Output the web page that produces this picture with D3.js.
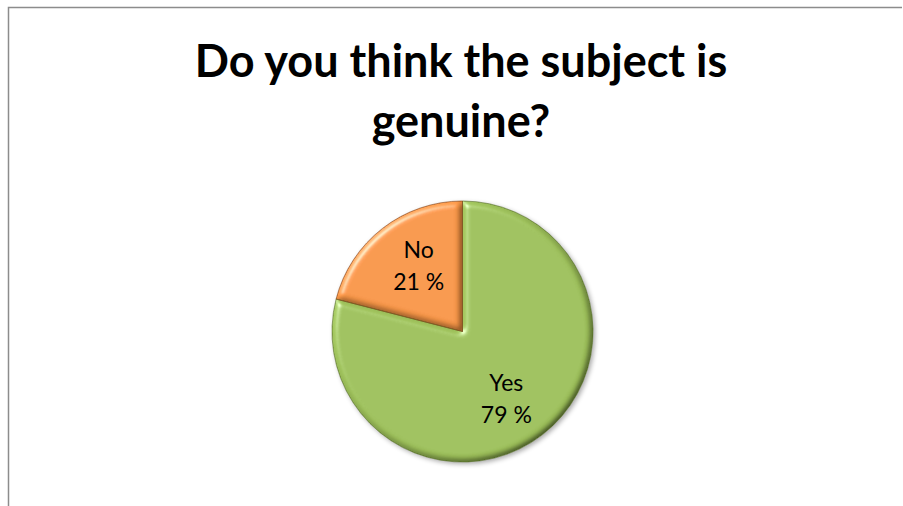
<!DOCTYPE html>
<html>
<head>
<meta charset="utf-8">
<script src="https://cdn.jsdelivr.net/npm/d3@7/dist/d3.min.js"></script>
<style>
  html, body { margin: 0; padding: 0; background: #ffffff; }
  svg { display: block; }
</style>
</head>
<body>
<svg id="chart" width="903" height="506"></svg>
<script>
// Survey answers
const categories = ["Yes", "No"];
const values = [79, 21];
const sliceColors = ["#9DC05A", "#F79647"];
const edgeColors = ["#5a7526", "#8a4515"];
const titleLines = ["Do you think the subject is", "genuine?"];

const W = 903, H = 506;
const svg = d3.select("#chart");
const defs = svg.append("defs");

// Soft-round bevel: light from upper left, shade toward lower right
const bevel = defs.append("filter")
  .attr("id", "bevel")
  .attr("x", "-10%").attr("y", "-10%")
  .attr("width", "120%").attr("height", "120%");
bevel.append("feGaussianBlur")
  .attr("in", "SourceAlpha").attr("stdDeviation", 3.2).attr("result", "blur");
const diff = bevel.append("feDiffuseLighting")
  .attr("in", "blur").attr("surfaceScale", 4)
  .attr("diffuseConstant", 1).attr("lighting-color", "#ffffff")
  .attr("result", "diffuse");
diff.append("feDistantLight").attr("azimuth", 225).attr("elevation", 55);
bevel.append("feComposite")
  .attr("in", "diffuse").attr("in2", "SourceAlpha")
  .attr("operator", "in").attr("result", "lit");
bevel.append("feComposite")
  .attr("in", "SourceGraphic").attr("in2", "lit")
  .attr("operator", "arithmetic")
  .attr("k1", 1.22).attr("k2", 0).attr("k3", 0).attr("k4", 0)
  .attr("result", "shaded");
const spec = bevel.append("feSpecularLighting")
  .attr("in", "blur").attr("surfaceScale", 4)
  .attr("specularConstant", 0.8).attr("specularExponent", 32)
  .attr("lighting-color", "#ffffff").attr("result", "spec");
spec.append("feDistantLight").attr("azimuth", 225).attr("elevation", 40);
bevel.append("feComposite")
  .attr("in", "spec").attr("in2", "SourceAlpha")
  .attr("operator", "in").attr("result", "specIn");
bevel.append("feComposite")
  .attr("in", "shaded").attr("in2", "specIn")
  .attr("operator", "arithmetic")
  .attr("k1", 0).attr("k2", 1).attr("k3", 0.55).attr("k4", 0);

// Faint drop shadow under the pie
const shadow = defs.append("filter")
  .attr("id", "shadow")
  .attr("x", "-20%").attr("y", "-20%")
  .attr("width", "140%").attr("height", "140%");
shadow.append("feGaussianBlur").attr("in", "SourceAlpha").attr("stdDeviation", 2.5);
shadow.append("feOffset").attr("dx", 1.5).attr("dy", 2).attr("result", "off");
shadow.append("feComponentTransfer").append("feFuncA")
  .attr("type", "linear").attr("slope", 0.35);

// Chart frame
svg.append("path")
  .attr("d", `M8.5,${H} V7.5 H902`)
  .attr("fill", "none")
  .attr("stroke", "#8c8c8c")
  .attr("stroke-width", 1.5);

// Title
const title = svg.append("text")
  .attr("text-anchor", "middle")
  .attr("font-family", "Lato, 'Open Sans', sans-serif")
  .attr("font-weight", 700)
  .attr("font-size", 45)
  .attr("fill", "#000000");
titleLines.forEach((t, i) => {
  title.append("tspan")
    .attr("x", 461)
    .attr("y", 77 + i * 60)
    .text(t);
});

// Pie
const cx = 462.5, cy = 331.5, R = 130.5;
const pie = d3.pie().sort(null).value(d => d.value);
const arcs = pie(categories.map((c, i) => ({ name: c, value: values[i], i })));
const arc = d3.arc().innerRadius(0).outerRadius(R);

const g = svg.append("g").attr("transform", `translate(${cx},${cy})`);

g.append("circle")
  .attr("r", R)
  .attr("fill", "#000")
  .attr("filter", "url(#shadow)");

g.selectAll("path.slice")
  .data(arcs)
  .join("path")
  .attr("class", "slice")
  .attr("d", arc)
  .attr("fill", d => sliceColors[d.data.i])
  .attr("filter", "url(#bevel)");

g.selectAll("path.edge")
  .data(arcs)
  .join("path")
  .attr("class", "edge")
  .attr("d", arc)
  .attr("fill", "none")
  .attr("stroke", d => edgeColors[d.data.i])
  .attr("stroke-opacity", 0.8)
  .attr("stroke-width", 0.8);

// Data labels: category name over percentage
const labelArc = d3.arc().innerRadius(80).outerRadius(80);
const labels = g.selectAll("text.lbl")
  .data(arcs)
  .join("text")
  .attr("class", "lbl")
  .attr("text-anchor", "middle")
  .attr("font-family", "Lato, 'Open Sans', sans-serif")
  .attr("font-size", 23)
  .attr("fill", "#000000")
  .attr("transform", d => {
    const mid = (d.startAngle + d.endAngle) / 2 + 0.08;
    const [x, y] = labelArc.centroid({ startAngle: mid, endAngle: mid });
    return `translate(${x},${y})`;
  });
labels.append("tspan").attr("x", 0).attr("y", -7).text(d => d.data.name);
labels.append("tspan").attr("x", 0).attr("y", 25).text(d => `${d.data.value} %`);
</script>
</body>
</html>
